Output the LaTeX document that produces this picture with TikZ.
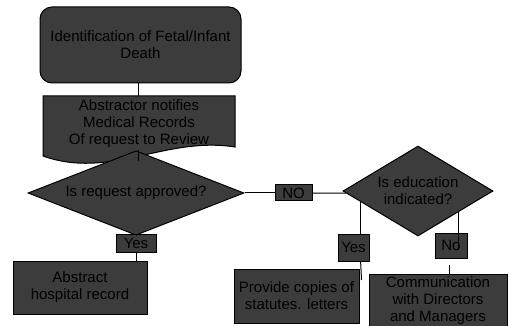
\documentclass[tikz,border=0pt]{standalone}
\usepackage{fontspec}
\setmainfont{Liberation Sans}
\usetikzlibrary{shapes.geometric,calc}
\definecolor{boxgray}{HTML}{3C3C3C}

\begin{document}
\begin{tikzpicture}[x=1pt,y=-1pt,line width=1pt,
    every node/.style={font=\fontsize{15}{17}\selectfont,align=center,text=black},
    flowbox/.style={draw=black,fill=boxgray,inner sep=0pt},
    tagbox/.style={draw=black,fill=boxgray,inner sep=0pt},
    decide/.style={diamond,draw=black,fill=boxgray,inner sep=0pt,aspect=2}]
\useasboundingbox (0,0) rectangle (509,326);
\fill[white] (0,0) rectangle (509,326);

\node[flowbox,rounded corners=12pt,minimum width=201pt,minimum height=76pt] (ident) at (140.5,45) {Identification of Fetal/Infant\\Death};
\coordinate (notifytop) at (138,96);
\coordinate (notifybot) at (138,161);
\filldraw[draw=black,fill=boxgray] (43,96) -- (235,96) -- (235,147) .. controls (165,136) and (110,180) .. (43,156) -- cycle;
\node (notify) at (139,124) {Abstractor notifies\\Medical Records\\Of request to Review};
\draw (ident.south -| notifytop) -- (notifytop);

\node[decide,minimum width=216pt,minimum height=54pt] (approve) at (136,193) {Is request approved?};
\draw (notifybot) -- (notifybot |- approve.north);

\node[tagbox,minimum width=40pt,minimum height=18pt] (yesA) at (136,243) {Yes};
\node[flowbox,minimum width=134pt,minimum height=53pt] (abstract) at (80,287.5) {Abstract\\hospital record};
\draw (approve.south) -- (yesA.north);
\draw (yesA.south) -- (yesA.south |- abstract.north);

\node[tagbox,minimum width=37pt,minimum height=16pt] (noA) at (293.5,193) {NO};
\node[decide,minimum width=150pt,minimum height=90pt] (eduq) at (418,191) {Is education\\indicated?};
\draw (approve.east) -- (noA.west);
\draw (noA.east) -- ($(eduq.west)!0.045!(eduq.south)$);

\node[tagbox,minimum width=31pt,minimum height=27pt] (yesB) at (353.5,247.5) {Yes};
\node[flowbox,minimum width=125pt,minimum height=54pt] (provide) at (296.5,296) {Provide copies of\\statutes. letters};
\coordinate (yesBtop) at ($(eduq.west)!0.24!(eduq.south)$);
\coordinate (yesBfoot) at (361.5,280);
\draw (yesBtop) -- (yesBtop |- yesB.north);
\draw (yesBtop |- yesB.south) -- (yesBfoot);

\node[tagbox,minimum width=32pt,minimum height=25pt] (noB) at (451,245.5) {No};
\node[flowbox,minimum width=138pt,minimum height=54pt] (comm) at (438,301) {Communication\\with Directors\\and Managers};
\coordinate (noBtop) at ($(eduq.east)!0.47!(eduq.south)$);
\draw (noBtop) -- (noBtop |- 0,250);
\draw (449,265) -- (449,265 |- comm.north);
\end{tikzpicture}
\end{document}
